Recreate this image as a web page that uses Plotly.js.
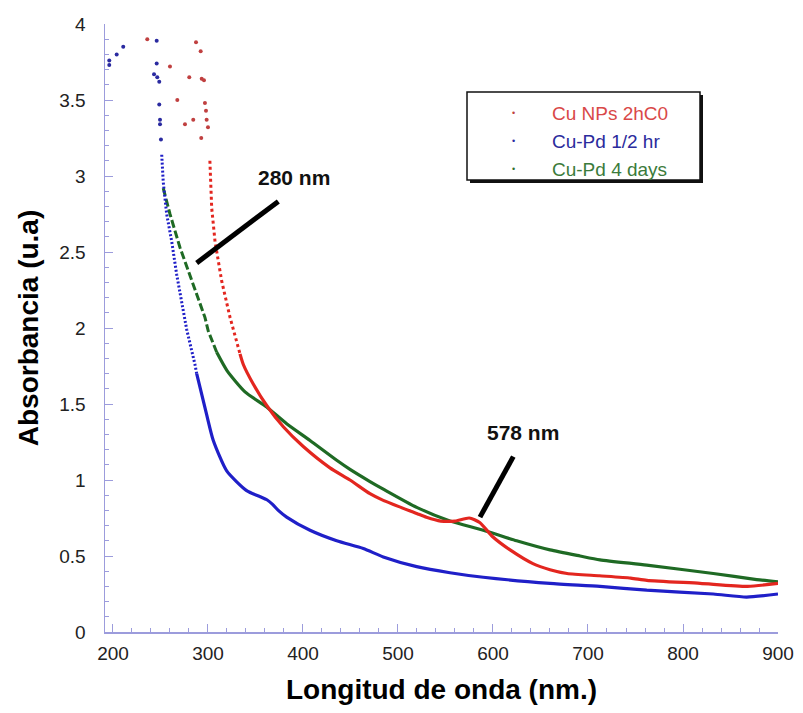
<!DOCTYPE html>
<html>
<head>
<meta charset="utf-8">
<script src="https://cdn.plot.ly/plotly-3.0.1.min.js"></script>
<style>html,body{margin:0;padding:0;background:#fff;}#chart{width:803px;height:713px;}</style>
</head>
<body>
<div id="chart"></div>
<script>
// ---- data ----
const seriesNames = ["Cu NPs 2hC0", "Cu-Pd 1/2 hr", "Cu-Pd 4 days"];

const redX = [302, 303.9, 307.4, 314.4, 323.2, 333.7, 337.2, 347.8, 361.8, 379.3, 400.3, 428.4, 449.5, 470.5, 484.5, 519.7, 530, 545, 560, 575, 586, 600, 618, 642, 660, 678, 712, 745, 762, 818, 868, 900];
const redY = [3.10, 2.79, 2.57, 2.31, 2.07, 1.83, 1.76, 1.63, 1.49, 1.35, 1.22, 1.08, 1.0, 0.91, 0.866, 0.78, 0.755, 0.73, 0.73, 0.75, 0.72, 0.625, 0.54, 0.45, 0.41, 0.385, 0.37, 0.355, 0.34, 0.32, 0.30, 0.32];
const redDotsX = [236.1, 260, 267.7, 275.8, 284.5, 280.3, 287.4, 292.3, 293.4, 295.8, 292.9, 296.8, 297.9, 298.6, 300];
const redDotsY = [3.90, 3.72, 3.50, 3.34, 3.37, 3.65, 3.88, 3.82, 3.64, 3.63, 3.25, 3.48, 3.43, 3.37, 3.32];

const blueX = [251.3, 252.9, 256.5, 261.8, 267.1, 274, 277.6, 286.3, 288.1, 298.6, 305.6, 319.7, 340.7, 355, 362, 368, 374, 382.8, 407.4, 435.5, 463.5, 484.5, 519.7, 554.7, 589.8, 660, 712.6, 761.8, 831.9, 867, 900];
const blueY = [3.14, 2.96, 2.75, 2.57, 2.35, 2.11, 1.99, 1.76, 1.70, 1.43, 1.26, 1.06, 0.93, 0.89, 0.87, 0.84, 0.8, 0.756, 0.669, 0.60, 0.549, 0.494, 0.43, 0.39, 0.36, 0.32, 0.30, 0.275, 0.25, 0.23, 0.25];
const blueDotsX = [196.1, 196.1, 203.9, 210.8, 246, 246, 243.2, 246.6, 248.7, 248.7, 249.5, 249.5, 250.5];
const blueDotsY = [3.76, 3.73, 3.80, 3.85, 3.89, 3.74, 3.67, 3.65, 3.62, 3.47, 3.37, 3.34, 3.24];

const greenX = [252.9, 260, 270.5, 284.5, 296.8, 300.3, 309.2, 320, 339, 361.8, 382.8, 407.4, 435.5, 449.5, 470.5, 484.5, 519.7, 554.7, 589.8, 624.9, 660, 691.6, 712.6, 761.8, 831.9, 877.6, 900];
const greenY = [2.92, 2.75, 2.53, 2.29, 2.07, 1.98, 1.84, 1.72, 1.58, 1.48, 1.37, 1.26, 1.13, 1.07, 0.99, 0.94, 0.82, 0.73, 0.67, 0.60, 0.54, 0.50, 0.475, 0.44, 0.385, 0.345, 0.33];

// annotation labels and pointer lines (data coords)
const noteTexts = ["280 nm", "578 nm"];
const noteX = [391, 631.9];
const noteY = [2.99, 1.313];
const pointerX0 = [374, 621.4];
const pointerY0 = [2.833, 1.154];
const pointerX1 = [288.1, 586.3];
const pointerY1 = [2.428, 0.756];

const xTickVals = [200, 300, 400, 500, 600, 700, 800, 900];
const yTickVals = [0, 0.5, 1, 1.5, 2, 2.5, 3, 3.5, 4];

// ---- styles ----
const colRed = "#e3261f", colBlue = "#1f1fc8", colGreen = "#1f6a24";
const txtRed = "#d94848", txtBlue = "#2b2b9c", txtGreen = "#3b7b3b";
const axisCol = "#9c9cdc";
const FONT = "Arial, 'Liberation Sans', sans-serif";

function split(xs, ys, t) {
  const a = {x: [], y: []}, b = {x: [], y: []};
  xs.forEach((v, i) => {
    if (v <= t) { a.x.push(v); a.y.push(ys[i]); }
    if (v >= t) { b.x.push(v); b.y.push(ys[i]); }
  });
  return [a, b];
}

function curveTraces(xs, ys, t, col, dash) {
  const [steep, smooth] = split(xs, ys, t);
  return [
    {x: steep.x, y: steep.y, mode: "lines", line: {color: col, width: 3, dash: dash}, showlegend: false, hoverinfo: "skip"},
    {x: smooth.x, y: smooth.y, mode: "lines", line: {color: col, width: 3.2, shape: "spline", smoothing: 0.6}, showlegend: false, hoverinfo: "skip"}
  ];
}

const traces = [].concat(
  curveTraces(greenX, greenY, 309.2, colGreen, "8px,3px"),
  curveTraces(redX, redY, 333.7, colRed, "3px,3px"),
  curveTraces(blueX, blueY, 288.1, colBlue, "2px,2px"),
  [
    {x: redDotsX, y: redDotsY, mode: "markers", marker: {color: "#c04040", size: 4}, showlegend: false, hoverinfo: "skip"},
    {x: blueDotsX, y: blueDotsY, mode: "markers", marker: {color: "#2a2aa0", size: 4}, showlegend: false, hoverinfo: "skip"}
  ]
);

// plot area in pixels
const L = 105, R = 25, T = 24, B = 81, W = 803, H = 713;
const pw = W - L - R, ph = H - T - B;
const px = v => (v - L) / pw;
const py = v => (H - B - v) / ph;

const shapes = [];
for (let i = 0; i < pointerX0.length; i++) {
  shapes.push({type: "line", xref: "x", yref: "y", x0: pointerX0[i], y0: pointerY0[i], x1: pointerX1[i], y1: pointerY1[i],
    line: {color: "#000", width: 5}});
}
// legend box with shadow
shapes.push({type: "rect", xref: "paper", yref: "paper", x0: px(470), x1: px(703), y0: py(183), y1: py(95),
  fillcolor: "#111", line: {width: 0}});
shapes.push({type: "rect", xref: "paper", yref: "paper", x0: px(467), x1: px(700), y0: py(180), y1: py(92),
  fillcolor: "#fff", line: {color: "#111", width: 1.5}});

const annotations = [];
for (let i = 0; i < noteTexts.length; i++) {
  annotations.push({x: noteX[i], y: noteY[i], xref: "x", yref: "y", text: noteTexts[i], showarrow: false,
    font: {family: FONT, size: 21, color: "#111", weight: "bold"}});
}
const legCols = [txtRed, txtBlue, txtGreen];
const dotCols = ["#c04040", "#2a2aa0", "#2f6f2f"];
const legY = [113, 141, 169];
for (let i = 0; i < seriesNames.length; i++) {
  annotations.push({x: px(550), y: py(legY[i]), xref: "paper", yref: "paper", xanchor: "left", yanchor: "middle",
    text: seriesNames[i], showarrow: false, font: {family: FONT, size: 19, color: legCols[i]}});
  annotations.push({x: px(513), y: py(legY[i]), xref: "paper", yref: "paper", xanchor: "center", yanchor: "middle",
    text: "•", showarrow: false, font: {family: FONT, size: 9, color: dotCols[i]}});
}

const layout = {
  width: W, height: H,
  margin: {l: L, r: R, t: T, b: B},
  paper_bgcolor: "#fff", plot_bgcolor: "#fff",
  showlegend: false,
  font: {family: FONT},
  xaxis: {
    range: [191.6, 900], tickvals: xTickVals, ticks: "inside", ticklen: 8, tickwidth: 1, tickcolor: axisCol,
    showline: true, linecolor: axisCol, linewidth: 1.5, showgrid: false, zeroline: false,
    minor: {dtick: 20, tick0: 200, ticks: "inside", ticklen: 4, tickcolor: axisCol, showgrid: false},
    tickfont: {family: FONT, size: 19, color: "#222"}, ticklabelstandoff: 4,
    title: {text: "Longitud de onda (nm.)", font: {family: FONT, size: 28, color: "#000", weight: "bold"}, standoff: 16},
    automargin: false
  },
  yaxis: {
    range: [0, 4], tickvals: yTickVals, ticks: "inside", ticklen: 8, tickwidth: 1, tickcolor: axisCol,
    showline: true, linecolor: axisCol, linewidth: 1.5, showgrid: false, zeroline: false,
    minor: {dtick: 0.1, tick0: 0, ticks: "inside", ticklen: 4, tickcolor: axisCol, showgrid: false},
    tickfont: {family: FONT, size: 19, color: "#222"}, ticklabelstandoff: 14,
    title: {text: "Absorbancia (u.a)", font: {family: FONT, size: 28, color: "#000", weight: "bold"}, standoff: 12},
    automargin: false
  },
  shapes: shapes,
  annotations: annotations
};

Plotly.newPlot("chart", traces, layout, {displayModeBar: false, staticPlot: true});
</script>
</body>
</html>
